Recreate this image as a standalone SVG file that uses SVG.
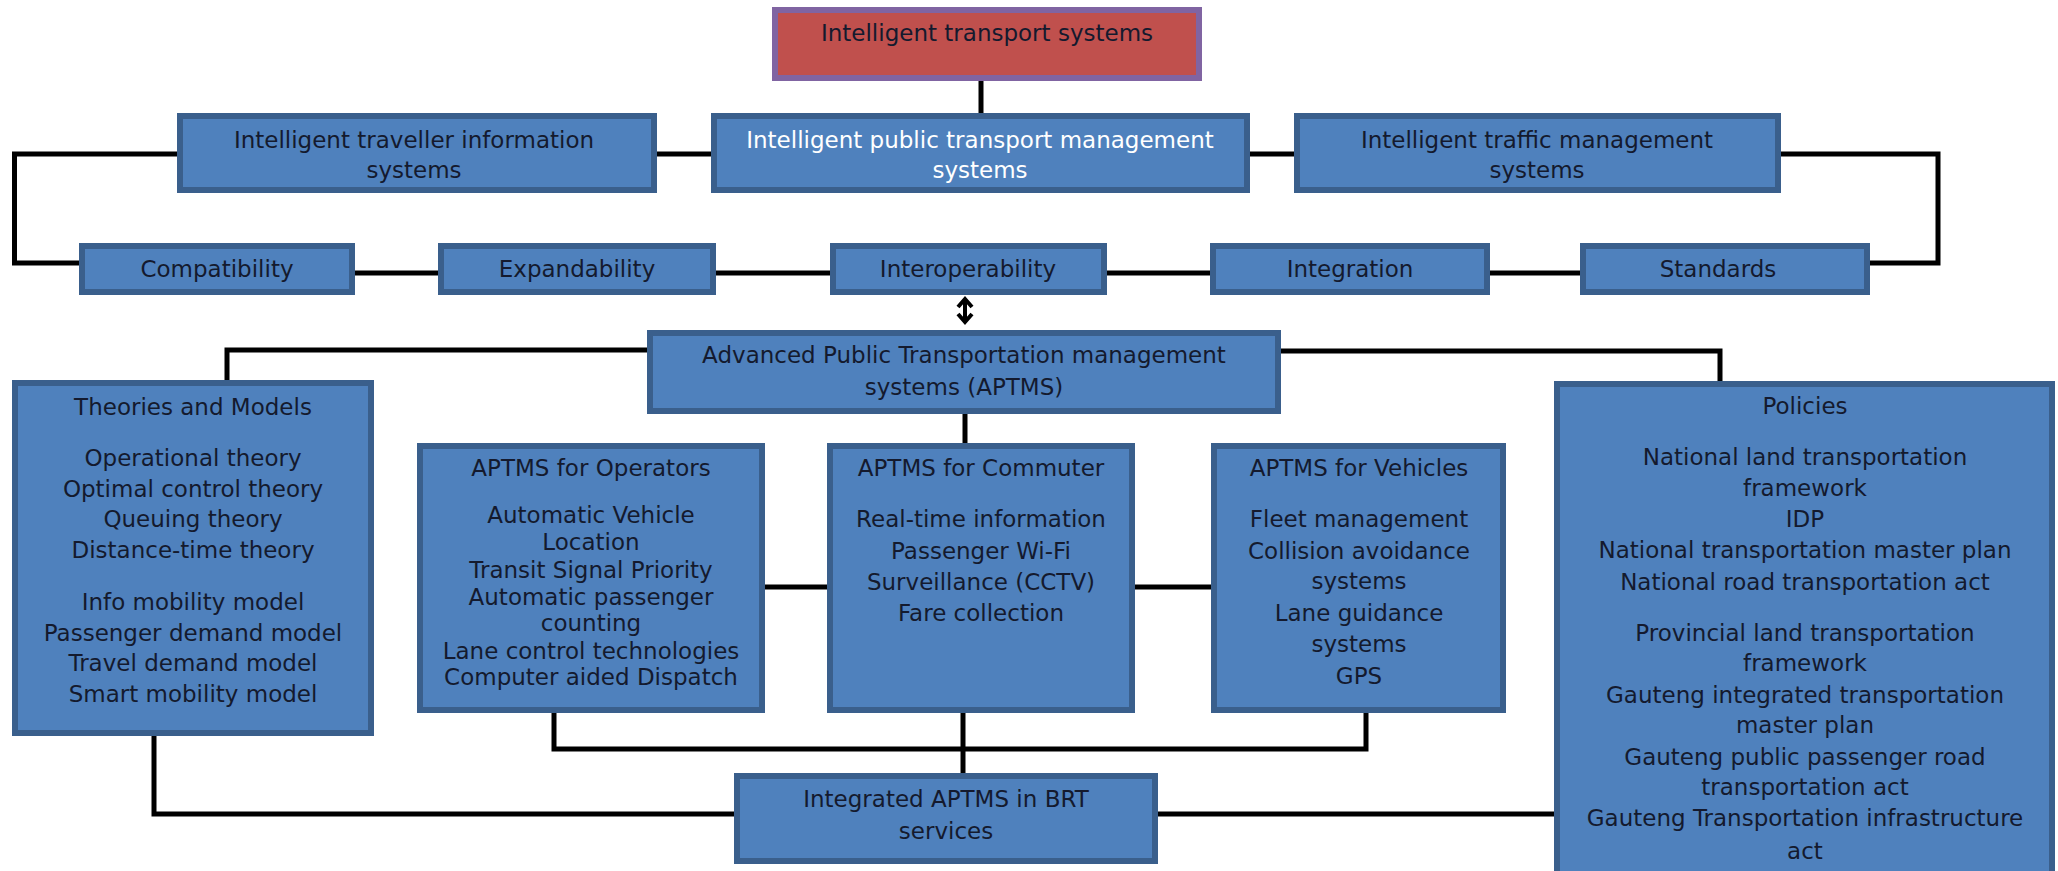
<svg xmlns="http://www.w3.org/2000/svg" width="2058" height="871" viewBox="0 0 2058 871">
<defs>
<style>
.box{fill:#4F81BD;stroke:#3A5F8C;stroke-width:6}
.root{fill:#C0504D;stroke:#8064A2;stroke-width:6}
.t{font-family:"DejaVu Sans",sans-serif;font-size:23px;fill:#141a2e;text-anchor:middle}
.w{fill:#ffffff}
.c{fill:none;stroke:#000;stroke-width:5;stroke-linejoin:miter;stroke-linecap:butt}
.arr{fill:none;stroke:#000;stroke-width:4}
</style>
<marker id="chev" viewBox="0 0 16 18" refX="9" refY="9" markerWidth="16" markerHeight="18" markerUnits="userSpaceOnUse" orient="auto-start-reverse">
<path d="M2,2 L10,9 L2,16" fill="none" stroke="#000" stroke-width="4"/>
</marker>
</defs>
<rect width="2058" height="871" fill="#ffffff"/>

<g id="connectors">
<path class="c" d="M981,81 V113"/>
<path class="c" d="M177,154 H14.5 V263 H79"/>
<path class="c" d="M657,154 H711"/>
<path class="c" d="M1250,154 H1294"/>
<path class="c" d="M1781,154 H1938 V263 H1870"/>
<path class="c" d="M355,273 H438"/>
<path class="c" d="M716,273 H830"/>
<path class="c" d="M1107,273 H1210"/>
<path class="c" d="M1490,273 H1580"/>
<path class="arr" d="M965,300 V321" marker-start="url(#chev)" marker-end="url(#chev)"/>
<path class="c" d="M647,350 H227 V380"/>
<path class="c" d="M1281,351 H1720 V381"/>
<path class="c" d="M965,414 V443"/>
<path class="c" d="M765,587 H827"/>
<path class="c" d="M1135,587 H1211"/>
<path class="c" d="M554,713 V749 H1366 V713"/>
<path class="c" d="M963,713 V773"/>
<path class="c" d="M154,736 V814 H734"/>
<path class="c" d="M1158,814 H1554"/>
</g>

<g id="its">
<rect class="root" x="775" y="10" width="424" height="68"/>
<text class="t" x="987" y="41">Intelligent transport systems</text>
</g>

<g id="itis">
<rect class="box" x="180" y="116" width="474" height="74"/>
<text class="t" x="414" y="148">Intelligent traveller information</text>
<text class="t" x="414" y="178">systems</text>
</g>
<g id="iptms">
<rect class="box" x="714" y="116" width="533" height="74"/>
<text class="t w" x="980" y="148">Intelligent public transport management</text>
<text class="t w" x="980" y="178">systems</text>
</g>
<g id="itms">
<rect class="box" x="1297" y="116" width="481" height="74"/>
<text class="t" x="1537" y="148">Intelligent traffic management</text>
<text class="t" x="1537" y="178">systems</text>
</g>

<g id="compatibility">
<rect class="box" x="82" y="246" width="270" height="46"/>
<text class="t" x="217" y="277">Compatibility</text>
</g>
<g id="expandability">
<rect class="box" x="441" y="246" width="272" height="46"/>
<text class="t" x="577" y="277">Expandability</text>
</g>
<g id="interoperability">
<rect class="box" x="833" y="246" width="271" height="46"/>
<text class="t" x="968" y="277">Interoperability</text>
</g>
<g id="integration">
<rect class="box" x="1213" y="246" width="274" height="46"/>
<text class="t" x="1350" y="277">Integration</text>
</g>
<g id="standards">
<rect class="box" x="1583" y="246" width="284" height="46"/>
<text class="t" x="1718" y="277">Standards</text>
</g>

<g id="aptms">
<rect class="box" x="650" y="333" width="628" height="78"/>
<text class="t" x="964" y="363">Advanced Public Transportation management</text>
<text class="t" x="964" y="395">systems (APTMS)</text>
</g>

<g id="theories">
<rect class="box" x="15" y="383" width="356" height="350"/>
<text class="t" x="193" y="415">Theories and Models</text>
<text class="t" x="193" y="466">Operational theory</text>
<text class="t" x="193" y="497">Optimal control theory</text>
<text class="t" x="193" y="527">Queuing theory</text>
<text class="t" x="193" y="558">Distance-time theory</text>
<text class="t" x="193" y="610">Info mobility model</text>
<text class="t" x="193" y="641">Passenger demand model</text>
<text class="t" x="193" y="671">Travel demand model</text>
<text class="t" x="193" y="702">Smart mobility model</text>
</g>

<g id="operators">
<rect class="box" x="420" y="446" width="342" height="264"/>
<text class="t" x="591" y="476">APTMS for Operators</text>
<text class="t" x="591" y="523">Automatic Vehicle</text>
<text class="t" x="591" y="550">Location</text>
<text class="t" x="591" y="578">Transit Signal Priority</text>
<text class="t" x="591" y="605">Automatic passenger</text>
<text class="t" x="591" y="631">counting</text>
<text class="t" x="591" y="659">Lane control technologies</text>
<text class="t" x="591" y="685">Computer aided Dispatch</text>
</g>

<g id="commuter">
<rect class="box" x="830" y="446" width="302" height="264"/>
<text class="t" x="981" y="476">APTMS for Commuter</text>
<text class="t" x="981" y="527">Real-time information</text>
<text class="t" x="981" y="559">Passenger Wi-Fi</text>
<text class="t" x="981" y="590">Surveillance (CCTV)</text>
<text class="t" x="981" y="621">Fare collection</text>
</g>

<g id="vehicles">
<rect class="box" x="1214" y="446" width="289" height="264"/>
<text class="t" x="1359" y="476">APTMS for Vehicles</text>
<text class="t" x="1359" y="527">Fleet management</text>
<text class="t" x="1359" y="559">Collision avoidance</text>
<text class="t" x="1359" y="589">systems</text>
<text class="t" x="1359" y="621">Lane guidance</text>
<text class="t" x="1359" y="652">systems</text>
<text class="t" x="1359" y="684">GPS</text>
</g>

<g id="integrated">
<rect class="box" x="737" y="776" width="418" height="85"/>
<text class="t" x="946" y="807">Integrated APTMS in BRT</text>
<text class="t" x="946" y="839">services</text>
</g>

<g id="policies">
<rect class="box" x="1557" y="384" width="495" height="500"/>
<text class="t" x="1805" y="414">Policies</text>
<text class="t" x="1805" y="465">National land transportation</text>
<text class="t" x="1805" y="496">framework</text>
<text class="t" x="1805" y="527">IDP</text>
<text class="t" x="1805" y="558">National transportation master plan</text>
<text class="t" x="1805" y="590">National road transportation act</text>
<text class="t" x="1805" y="641">Provincial land transportation</text>
<text class="t" x="1805" y="671">framework</text>
<text class="t" x="1805" y="703">Gauteng integrated transportation</text>
<text class="t" x="1805" y="733">master plan</text>
<text class="t" x="1805" y="765">Gauteng public passenger road</text>
<text class="t" x="1805" y="795">transportation act</text>
<text class="t" x="1805" y="826">Gauteng Transportation infrastructure</text>
<text class="t" x="1805" y="859">act</text>
</g>
</svg>
